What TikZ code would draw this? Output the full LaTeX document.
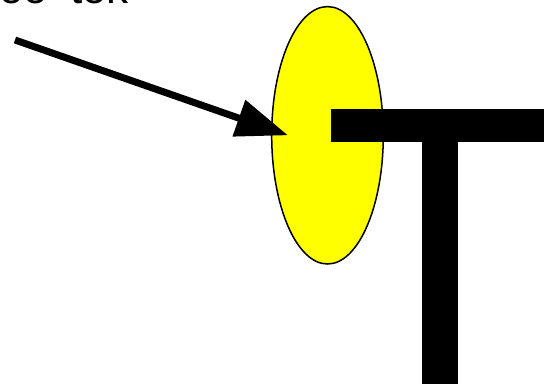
\documentclass[tikz,border=0pt]{standalone}
\usepackage{fontspec}
\setmainfont{Liberation Sans}
\usetikzlibrary{arrows.meta,shapes.geometric}
\definecolor{lensyellow}{RGB}{255,255,0}

\begin{document}
\begin{tikzpicture}[x=1pt,y=-1pt,>=Stealth]
  \useasboundingbox (0,0) rectangle (544,388);
  \clip (0,0) rectangle (544,388);
  % cut-off caption at the top edge
  \node[anchor=base west,inner sep=0pt,font=\fontsize{44}{50}\selectfont]
      (caption) at (-1,4) {oo\hspace{22pt}tok};
  % yellow lens
  \node[ellipse,draw=black,line width=1.5pt,fill=lensyellow,inner sep=0pt,
        minimum width=111.6pt,minimum height=257.4pt] (lens) at (327.5,135.3) {};
  % the T: top bar and stem
  \fill (331,109.3) rectangle (546,142);
  \fill (421.7,142) rectangle (457.7,384);
  % pointer into the lens
  \coordinate (tail) at (15,40);
  \coordinate (tip) at (288,135.3);
  \draw[line width=7pt,-{Triangle[length=52pt,width=37pt]}] (tail) -- (tip);
\end{tikzpicture}
\end{document}
